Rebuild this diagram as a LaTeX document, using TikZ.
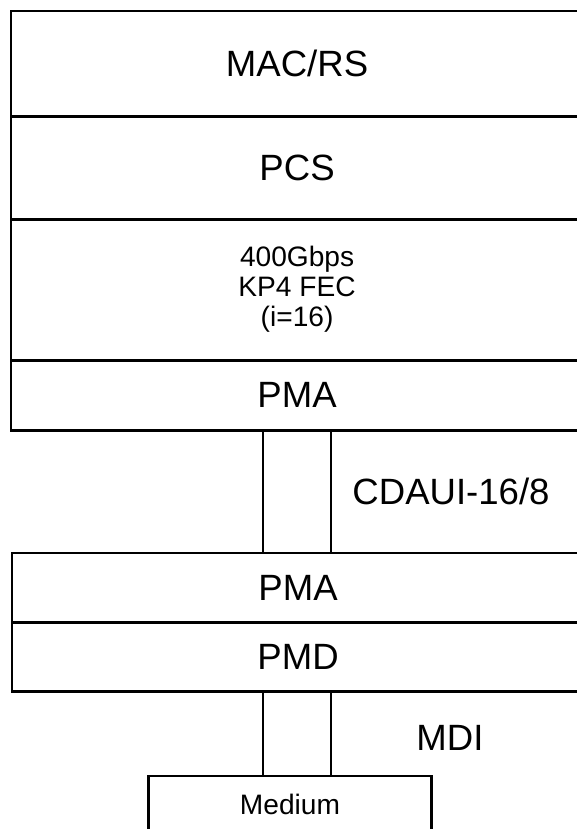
\documentclass[tikz,border=0pt]{standalone}
\usepackage{fontspec}
\setmainfont{Liberation Sans}
\usetikzlibrary{positioning}

\tikzset{
  layer/.style={draw,line width=2.1pt,inner sep=0pt,outer sep=0pt,
    minimum width=14.3cm,anchor=north west,align=center,
    font=\fontsize{26}{30}\selectfont},
  small/.style={font=\fontsize{20}{21.3}\selectfont},
  biglabel/.style={inner sep=0pt,font=\fontsize{26}{30}\selectfont},
  link/.style={line width=2.1pt},
}

\begin{document}
\begin{tikzpicture}[x=0.025cm,y=-0.025cm,line cap=rect]
\useasboundingbox (0,0) rectangle (577,829);
\clip (0,0) rectangle (577,829);
% host side stack
\node[layer,minimum height=2.625cm] (mac) at (11,11) {MAC/RS};
\node[layer,minimum height=2.575cm] (pcs) at (mac.south west) {PCS};
\node[layer,minimum height=3.525cm,small] (fec) at (pcs.south west) {400Gbps\\KP4 FEC\\(i=16)};
\node[layer,minimum height=1.75cm] (pma) at (fec.south west) {PMA};
% module side stack
\node[layer,minimum height=1.725cm] (pmab) at (12,553) {PMA};
\node[layer,minimum height=1.725cm] (pmd) at (pmab.south west) {PMD};
\node[draw,line width=2.1pt,inner sep=0pt,outer sep=0pt,anchor=north,
  minimum width=7.05cm,minimum height=1.4cm,small] (medium) at (290,776) {Medium};
% lanes
\coordinate (lanea) at (263,0);
\coordinate (laneb) at (331,0);
\draw[link] (pma.south -| lanea) -- (pmab.north -| lanea);
\draw[link] (pma.south -| laneb) -- (pmab.north -| laneb);
\draw[link] (pmd.south -| lanea) -- (medium.north -| lanea);
\draw[link] (pmd.south -| laneb) -- (medium.north -| laneb);
\node[biglabel] (cdaui) at (451,491) {CDAUI-16/8};
\node[biglabel] (mdi) at (450,738) {MDI};
\end{tikzpicture}
\end{document}
